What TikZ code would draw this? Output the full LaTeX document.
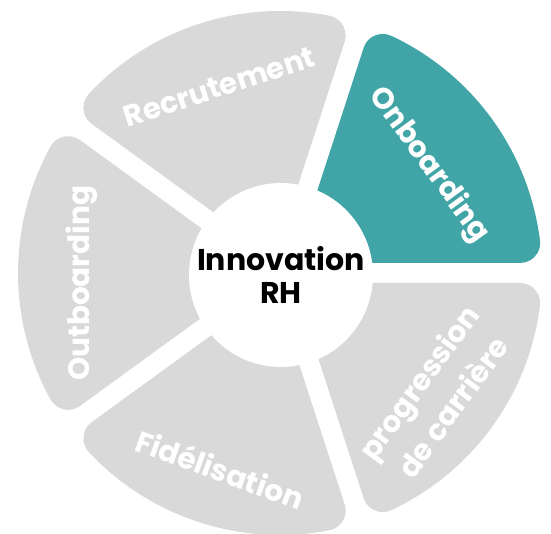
\documentclass[tikz,border=0pt]{standalone}
\usepackage{fontspec}
\setmainfont{Poppins}
\definecolor{segGrey}{HTML}{D9D9D9}
\definecolor{segTeal}{HTML}{41A5A7}
% one wheel segment: #1 = start angle, #2 = fill colour
% outer radius 262, corner radius 20, half gap 10
\newcommand{\wheelseg}[2]{%
  \pgfmathsetmacro{\wsPa}{#1+7.121}%
  \pgfmathsetmacro{\wsPb}{#1+72-7.121}%
  \fill[#2] (#1+36:17.01) -- (#1+2.3846:240.342)
    arc[start angle=#1-90, end angle=\wsPa, radius=20]
    arc[start angle=\wsPa, end angle=\wsPb, radius=262]
    arc[start angle=\wsPb, end angle=#1+162, radius=20] -- cycle;
}
\begin{document}
\begin{tikzpicture}[x=1pt,y=1pt,
  seglabel/.style={text=white,font=\bfseries\fontsize{29.5}{42}\selectfont,align=center,inner sep=0pt},
  hub/.style={circle,fill=white,minimum size=184pt,inner sep=0pt,
    font=\bfseries\fontsize{30}{33}\selectfont,align=center,text=black}]
\useasboundingbox (-280,-261) rectangle (271,273);
\wheelseg{0}{segTeal}
\wheelseg{72}{segGrey}
\wheelseg{144}{segGrey}
\wheelseg{216}{segGrey}
\wheelseg{288}{segGrey}
\node[hub] (hub) at (1,-2) {Innovation\\RH};
\node[seglabel, rotate=18] (recr) at (108:196) {Recrutement};
\node[seglabel, rotate=-54] (onb) at (36:184) {Onboarding};
\node[seglabel, rotate=90] (outb) at (183:199) {Outboarding};
\node[seglabel, rotate=-20] (fid) at (253:205) {Fidélisation};
\node[seglabel, rotate=54] (prog) at (-38:197) {progression\\de carrière};
\end{tikzpicture}
\end{document}
